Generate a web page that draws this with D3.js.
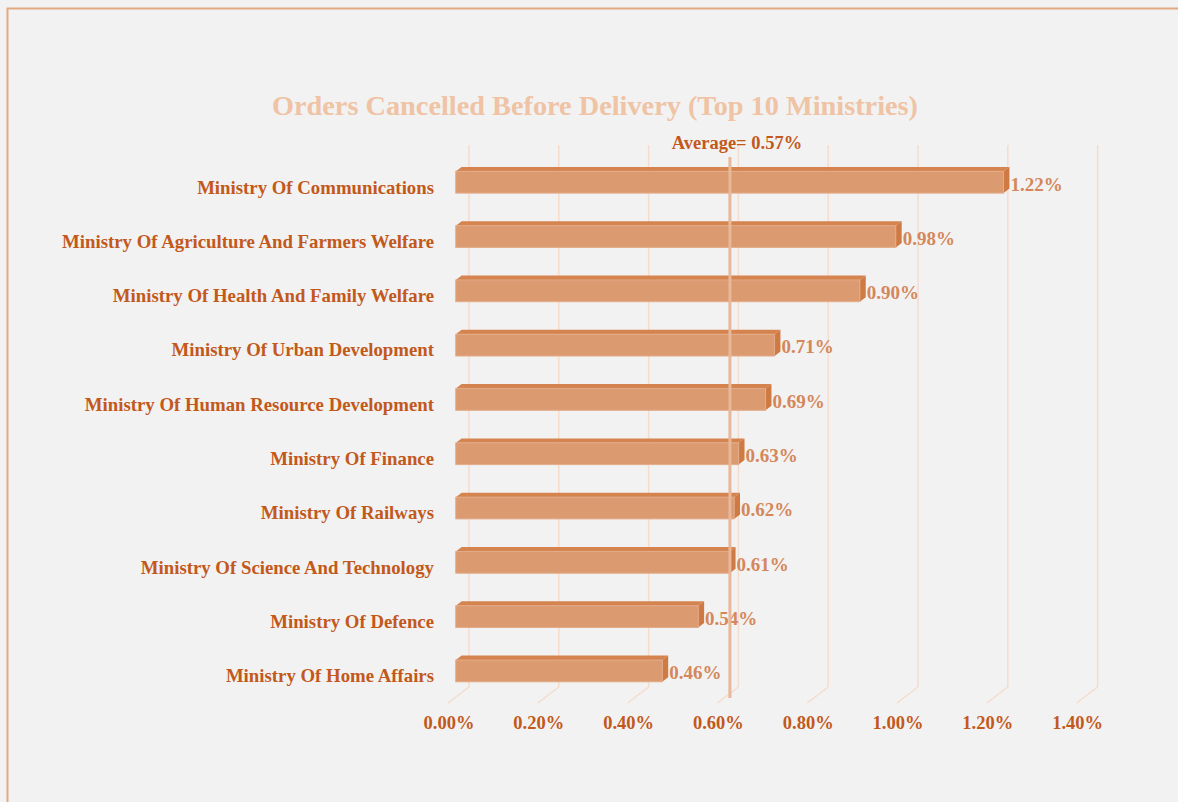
<!DOCTYPE html>
<html>
<head>
<meta charset="utf-8">
<script src="https://cdn.jsdelivr.net/npm/d3@7"></script>
<style>
  html, body { margin: 0; padding: 0; background: #f2f2f2; }
  svg { display: block; font-family: "Liberation Serif", "Times New Roman", serif; font-weight: bold; }
</style>
</head>
<body>
<div id="chart"></div>
<script>
const WIDTH = 1178;
const HEIGHT = 802;

// data
const ministries = [
  "Ministry Of Communications",
  "Ministry Of Agriculture And Farmers Welfare",
  "Ministry Of Health And Family Welfare",
  "Ministry Of Urban Development",
  "Ministry Of Human Resource Development",
  "Ministry Of Finance",
  "Ministry Of Railways",
  "Ministry Of Science And Technology",
  "Ministry Of Defence",
  "Ministry Of Home Affairs"
];
const cancelled = [1.22, 0.98, 0.90, 0.71, 0.69, 0.63, 0.62, 0.61, 0.54, 0.46];
const averageValue = 0.57;
const ticks = [0, 0.2, 0.4, 0.6, 0.8, 1.0, 1.2, 1.4];

// 3d depth of the plot box
const DEPTH_X = 21, DEPTH_Y = 16;
const BAR_IN = 0.37, BAR_OUT = 0.65;   // bar position within depth

const TXT_DARK = "#c2591b";
const TXT_VAL = "#d4875a";
const GRID = "#f6dccb";

const svg = d3.select("#chart")
  .append("svg")
  .attr("width", WIDTH)
  .attr("height", HEIGHT);

// outer border
svg.append("rect")
  .attr("x", 7.5).attr("y", 8.5)
  .attr("width", WIDTH + 20).attr("height", HEIGHT + 20)
  .attr("fill", "#f2f2f2")
  .attr("stroke", "#e3a982")
  .attr("stroke-width", 2);

// front plane scale
const x = d3.scaleLinear().domain([0, 1.4]).range([448, 448 + 1.4 * 449]);
const y = d3.scaleBand().domain(ministries).range([153, 696]).paddingInner(0.6).paddingOuter(0.3);

const floorFront = 703;
const backTop = 145;

// grid lines: vertical on back wall + diagonal across floor
const grid = svg.append("g");
grid.selectAll("path")
  .data(ticks)
  .enter()
  .append("path")
  .attr("d", d => `M${x(d) + DEPTH_X},${backTop} L${x(d) + DEPTH_X},${floorFront - DEPTH_Y} L${x(d)},${floorFront}`)
  .attr("fill", "none")
  .attr("stroke", GRID)
  .attr("stroke-width", 1.5);

// bars
const bars = svg.append("g")
  .selectAll("g")
  .data(cancelled.map((v, i) => ({name: ministries[i], value: v})))
  .enter()
  .append("g");

const fx = BAR_IN * DEPTH_X, fy = BAR_IN * DEPTH_Y;
const bdx = (BAR_OUT - BAR_IN) * DEPTH_X, bdy = (BAR_OUT - BAR_IN) * DEPTH_Y;

// top face
bars.append("path")
  .attr("d", d => {
    const x0 = x(0) + fx, x1 = x(d.value) + fx, yt = y(d.name) - fy + DEPTH_Y * 0.5;
    return `M${x0},${yt} L${x0 + bdx},${yt - bdy} L${x1 + bdx},${yt - bdy} L${x1},${yt} Z`;
  })
  .attr("fill", "#d5844f");

// side face
bars.append("path")
  .attr("d", d => {
    const x1 = x(d.value) + fx, yt = y(d.name) - fy + DEPTH_Y * 0.5, yb = yt + y.bandwidth();
    return `M${x1},${yt} L${x1 + bdx},${yt - bdy} L${x1 + bdx},${yb - bdy} L${x1},${yb} Z`;
  })
  .attr("fill", "#cf7a42");

// front face
bars.append("rect")
  .attr("x", x(0) + fx)
  .attr("y", d => y(d.name) - fy + DEPTH_Y * 0.5)
  .attr("width", d => x(d.value) - x(0))
  .attr("height", y.bandwidth())
  .attr("fill", "#db9a70")
  .attr("stroke", "#e3ab88")
  .attr("stroke-width", 1);

// value labels
bars.append("text")
  .attr("x", d => x(d.value) + fx + bdx + 1)
  .attr("y", d => y(d.name) - fy + DEPTH_Y * 0.5 + y.bandwidth() / 2 + 4)
  .attr("dominant-baseline", "middle")
  .attr("font-size", 19)
  .attr("fill", TXT_VAL)
  .text(d => d3.format(".2%")(d.value / 100));

// category labels
svg.append("g")
  .selectAll("text")
  .data(ministries)
  .enter()
  .append("text")
  .attr("x", 434)
  .attr("y", d => y(d) - fy + DEPTH_Y * 0.5 + y.bandwidth() / 2 + 7)
  .attr("text-anchor", "end")
  .attr("dominant-baseline", "middle")
  .attr("font-size", 18.8)
  .attr("fill", TXT_DARK)
  .text(d => d);

// average line
const avgX = x(averageValue) + DEPTH_X + 5;
svg.append("line")
  .attr("x1", avgX).attr("x2", avgX)
  .attr("y1", 157).attr("y2", 698)
  .attr("stroke", "#e8b89a")
  .attr("stroke-width", 3);

svg.append("text")
  .attr("x", avgX + 7)
  .attr("y", 144.5)
  .attr("text-anchor", "middle")
  .attr("dominant-baseline", "middle")
  .attr("font-size", 18.5)
  .attr("fill", TXT_DARK)
  .text("Average= " + d3.format(".2%")(averageValue / 100));

// x axis tick labels
svg.append("g")
  .selectAll("text")
  .data(ticks)
  .enter()
  .append("text")
  .attr("x", d => x(d) + 1)
  .attr("y", 725)
  .attr("text-anchor", "middle")
  .attr("dominant-baseline", "middle")
  .attr("font-size", 18.5)
  .attr("fill", TXT_DARK)
  .text(d => d3.format(".2%")(d / 100));

// title
svg.append("text")
  .attr("x", 595)
  .attr("y", 108)
  .attr("text-anchor", "middle")
  .attr("dominant-baseline", "middle")
  .attr("font-size", 28.3)
  .attr("fill", "#efc3a4")
  .text("Orders Cancelled Before Delivery (Top 10 Ministries)");
</script>
</body>
</html>
